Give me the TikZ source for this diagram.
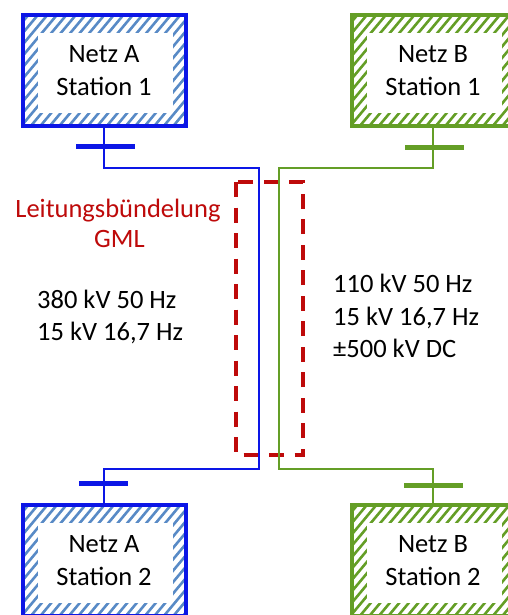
\documentclass[tikz,border=0pt]{standalone}
\usepackage{fontspec}
\setmainfont{Carlito}
\definecolor{blueline}{RGB}{12,22,230}
\definecolor{bluehatch}{RGB}{88,138,198}
\definecolor{greenline}{RGB}{100,158,38}
\definecolor{darkred}{RGB}{190,10,10}
\newcommand\myhatch[1]{%
  \foreach \k in {-13,...,19}{%
    \draw[#1, line width=2.6pt] ([xshift=\k*9.5pt, yshift=-10pt]path picture bounding box.south west) -- ++(110pt,132pt);
  }%
  \fill[white] ([shift={(15pt,13pt)}]path picture bounding box.south west) rectangle ([shift={(-13pt,-18pt)}]path picture bounding box.north east);
}
\begin{document}
\begin{tikzpicture}[x=1pt,y=-1pt,
  hatchbox/.style={draw=#1, line width=4pt, minimum width=163pt, minimum height=111pt,
    inner sep=0pt, align=center, font=\fontsize{26.5}{33}\selectfont},
  boxA/.style={hatchbox=blueline, path picture={\myhatch{bluehatch}}},
  boxB/.style={hatchbox=greenline, path picture={\myhatch{greenline}}},
  wireA/.style={draw=blueline, line width=2.2pt},
  wireB/.style={draw=greenline, line width=2.2pt},
  busA/.style={fill=blueline, minimum height=5pt, inner sep=0pt, minimum width=#1},
  busB/.style={fill=greenline, minimum height=5pt, inner sep=0pt, minimum width=#1},
  txt/.style={font=\fontsize{26.5}{33}\selectfont, inner sep=0pt},
  redtxt/.style={txt, text=darkred},
  gml/.style={draw=darkred, line width=3.5pt, dash pattern=on 15pt off 10.5pt}
]
\useasboundingbox[fill=white] (0,0) rectangle (507,615);

% red dashed bundle frame
\draw[gml] (236,182) rectangle (303,455);

% stations
\node[boxA] (A1) at (104,70.5) {Netz A\\Station 1};
\node[boxB] (B1) at (433,70.5) {Netz B\\Station 1};
\node[boxA] (A2) at (104,560.5) {Netz A\\Station 2};
\node[boxB] (B2) at (433,560.5) {Netz B\\Station 2};

% junction coordinates
\coordinate (jA1) at (259,168);
\coordinate (jA2) at (259,469);
\coordinate (jB1) at (279,168);
\coordinate (jB2) at (279,469);

% lines
\draw[wireA] (A1.south) |- (jA1) -- (jA2) -| (A2.north);
\draw[wireB] (B1.south) |- (jB1) -- (jB2) -| (B2.north);

% busbars
\node[busA=59pt] (busA1) at (105.5,146) {};
\node[busA=49pt] (busA2) at (103.5,483) {};
\node[busB=59pt] (busB1) at (434.5,147) {};
\node[busB=59pt] (busB2) at (433.5,485) {};

% texts
\node[redtxt, anchor=base] (t1) at (118,217) {Leitungsbündelung};
\node[redtxt, anchor=base] (t2) at (119.5,247) {GML};
\node[txt, anchor=base west] (t3) at (37,308) {380 kV 50 Hz};
\node[txt, anchor=base west] (t4) at (37,340) {15 kV 16,7 Hz};
\node[txt, anchor=base west] (t5) at (333,292) {110 kV 50 Hz};
\node[txt, anchor=base west] (t6) at (333,325) {15 kV 16,7 Hz};
\node[txt, anchor=base west] (t7) at (333,357) {±500 kV DC};
\end{tikzpicture}
\end{document}
